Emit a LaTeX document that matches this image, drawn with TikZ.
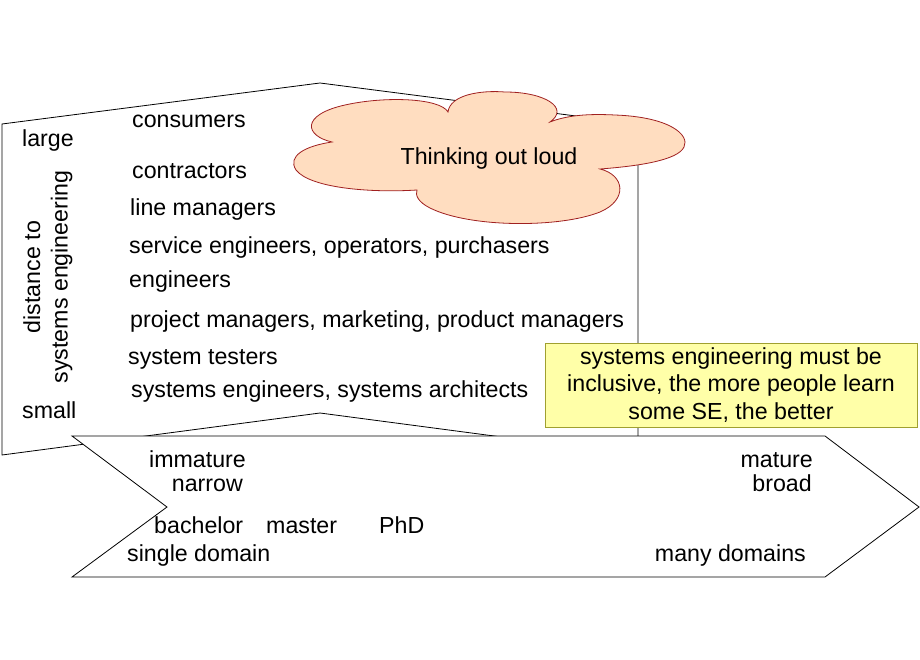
\documentclass[tikz,border=0pt]{standalone}
\usepackage{fontspec}
\setmainfont{Liberation Sans}
\usepackage{tikz}
\definecolor{cloudfill}{HTML}{FFDDC0}
\definecolor{cloudline}{HTML}{A02020}
\definecolor{notefill}{HTML}{FFFFA8}
\definecolor{noteline}{HTML}{A0A030}
\tikzset{%
    every node/.style={font=\fontsize{23.2}{27.5}\selectfont, inner sep=0pt},
    bigarrow/.style={draw, fill=white, line width=0.8pt},
    cloudshape/.style={draw=cloudline, fill=cloudfill, line width=0.8pt},
    lbl/.style={anchor=base west},
    rlbl/.style={anchor=base east}
}

\begin{document}
\begin{tikzpicture}[x=1pt,y=-1pt]
      \useasboundingbox (0,0) rectangle (920,660);

      \draw[bigarrow] (2,124) -- (320,83) -- (638,124) -- (638,455) -- (320,413) -- (2,455) -- cycle;

      \node[lbl] (large) at (22,147) {large};
      \node[lbl] (small) at (22,418) {small};
      \node[rotate=90, align=center] (dist) at (48,277) {distance to\\systems engineering};

      \node[lbl] (consumers) at (132,128) {consumers};
      \node[lbl] (contractors) at (132,179) {contractors};
      \node[lbl] (linemgr) at (130,216) {line managers};
      \node[lbl] (service) at (129,253) {service engineers, operators, purchasers};
      \node[lbl] (engineers) at (129,287) {engineers};
      \node[lbl] (projmgr) at (130,327) {project managers, marketing, product managers};
      \node[lbl] (testers) at (128,364) {system testers};
      \node[lbl] (syseng) at (131,397) {systems engineers, systems architects};

      \draw[bigarrow] (72,436) -- (825,436) -- (919,507) -- (825,577) -- (72,577) -- (167,507) -- cycle;

      \node[rlbl] (immature) at (246,467) {immature};
      \node[rlbl] (narrow) at (243,491) {narrow};
      \node[lbl] (bachelor) at (154,533) {bachelor};
      \node[lbl] (master) at (266,533) {master};
      \node[lbl] (phd) at (379,533) {PhD};
      \node[lbl] (single) at (127,561) {single domain};
      \node[rlbl] (mature) at (813,467) {mature};
      \node[rlbl] (broad) at (812,491) {broad};
      \node[rlbl] (many) at (806,561) {many domains};

      \draw[cloudshape] (332,142) .. controls (305,136) and (300,115) .. (345,105)
            .. controls (385,96) and (440,98) .. (448,112)
            .. controls (450,95) and (480,90) .. (505,92)
            .. controls (545,92) and (570,108) .. (550,122)
            .. controls (570,114) and (595,114) .. (615,115)
            .. controls (670,117) and (690,135) .. (684,147)
            .. controls (678,160) and (640,166) .. (600,169)
            .. controls (625,175) and (628,200) .. (600,212)
            .. controls (560,228) and (470,228) .. (430,208)
            .. controls (418,202) and (415,195) .. (417,190)
            .. controls (370,193) and (310,188) .. (296,170)
            .. controls (287,156) and (305,146) .. (332,142) -- cycle;
      \node[anchor=base] (think) at (489,165) {Thinking out loud};

      \node[draw=noteline, fill=notefill, line width=0.8pt, align=center,
            minimum width=372pt, minimum height=84pt] (note) at (731,385)
            {systems engineering must be\\inclusive, the more people learn\\some SE, the better};
\end{tikzpicture}
\end{document}
